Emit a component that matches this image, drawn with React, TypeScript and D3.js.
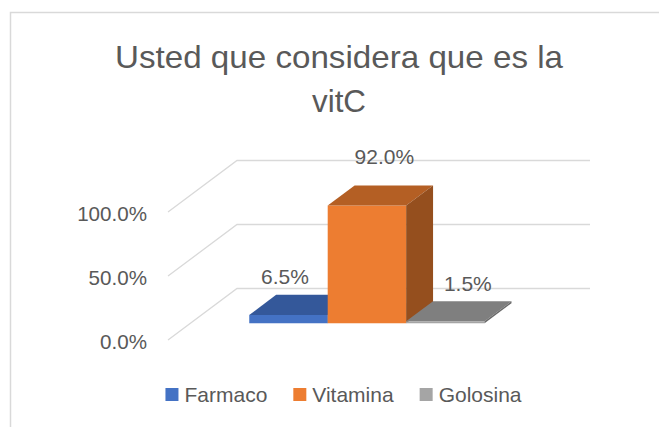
import React, { useLayoutEffect, useRef, useState } from "react";
import * as d3 from "d3";

// ---- data ----
const seriesNames = ["Farmaco", "Vitamina", "Golosina"];
const seriesValues = [0.065, 0.92, 0.015];
const yTickValues = [0, 0.5, 1];
const titleLines = ["Usted que considera que es la", "vitC"];
const categoryLabels = ["vitC"];

// ---- styles ----
const frontColors = ["#4472c4", "#ed7d31", "#a5a5a5"];
const topColors = ["#34589a", "#b45f24", "#7f7f7f"];
const sideColors = ["#2b4a80", "#954f1e", "#6a6a6a"];
const labelShift = [-17, 4, 9];
const titleWidths = [448, 54];
const FONT = "'Liberation Sans', Arial, sans-serif";
const TEXT = "#595959";
const GRID = "#d9d9d9";

const W = 659;
const H = 427;

export default function App() {
  const legendRefs = useRef<(SVGTextElement | null)[]>([]);
  const [legendW, setLegendW] = useState<number[]>(seriesNames.map((s) => s.length * 11));

  useLayoutEffect(() => {
    const ws = legendRefs.current.map((el, i) =>
      el ? el.getComputedTextLength() : seriesNames[i].length * 11
    );
    if (ws.some((w, i) => Math.abs(w - legendW[i]) > 0.5)) setLegendW(ws);
  }, []);

  // geometry
  const floorLeft = 168;
  const floorRight = 521;
  const dx = 69;
  const dy = -51.5;
  const f1 = 0.325;
  const f2 = 0.715;

  const y = d3.scaleLinear().domain([0, 1]).range([340, 212]);
  const xCat = d3
    .scaleBand<string>()
    .domain(categoryLabels)
    .range([floorLeft, floorRight])
    .paddingInner(0)
    .paddingOuter(0.25);
  const xSer = d3
    .scaleBand<string>()
    .domain(seriesNames)
    .range([0, xCat.bandwidth()])
    .padding(0);
  const fmt = d3.format(".1%");

  const ddx = dx * (f2 - f1);
  const ddy = dy * (f2 - f1);

  const bars = seriesNames.map((name, i) => {
    const v = seriesValues[i];
    const x0 = (xCat(categoryLabels[0]) as number) + (xSer(name) as number) + dx * f1;
    const x1 = x0 + xSer.bandwidth();
    const yb = y(0) + dy * f1;
    const yt = y(v) + dy * f1;
    const pt = (a: [number, number][]) => a.map((p) => p.join(",")).join(" ");
    const top = pt([
      [x0, yt],
      [x1, yt],
      [x1 + ddx, yt + ddy],
      [x0 + ddx, yt + ddy],
    ]);
    const side = pt([
      [x1, yt],
      [x1 + ddx, yt + ddy],
      [x1 + ddx, yb + ddy],
      [x1, yb],
    ]);
    const midX = (x0 + x1) / 2 + ddx / 2 + labelShift[i];
    const midTopY = yt + ddy / 2;
    const labelY = midTopY - 20 - 13 * v;
    return { name, i, v, x0, x1, yb, yt, top, side, midX, labelY };
  });

  // legend layout
  const sq = 13;
  const gapSqText = 6;
  const gapItems = 26;
  const itemWidths = legendW.map((w) => sq + gapSqText + w);
  const totalLegend = itemWidths.reduce((a, b) => a + b, 0) + gapItems * (seriesNames.length - 1);
  const legendCenter = (floorLeft + floorRight) / 2 - 1;
  let lx = legendCenter - totalLegend / 2;
  const legendX: number[] = [];
  itemWidths.forEach((w) => {
    legendX.push(lx);
    lx += w + gapItems;
  });

  return (
    <svg
      width={W}
      height={H}
      style={{ position: "absolute", left: 0, top: 0, display: "block", background: "#fff" }}
      fontFamily={FONT}
    >
      <rect x={0} y={0} width={W} height={H} fill="#fff" />
      <rect x={10.5} y={12.5} width={W + 50} height={H + 50} fill="#fff" stroke={GRID} strokeWidth={1.5} />

      {/* title */}
      {titleLines.map((t, i) => (
        <text
          key={i}
          x={339}
          y={68.3 + i * 43.7}
          textAnchor="middle"
          fontSize={30.5}
          fill={TEXT}
          textLength={titleWidths[i]}
          lengthAdjust="spacingAndGlyphs"
        >
          {t}
        </text>
      ))}

      {/* gridlines */}
      {yTickValues.map((t) => {
        const yy = y(t);
        return (
          <path
            key={t}
            d={`M${floorLeft},${yy} L${floorLeft + dx},${yy + dy} L${floorRight + dx},${yy + dy}`}
            fill="none"
            stroke={GRID}
            strokeWidth={1.3}
          />
        );
      })}

      {/* tick labels */}
      {yTickValues.map((t) => (
        <text key={t} x={147} y={y(t) + 8.5} textAnchor="end" fontSize={20.6} fill={TEXT}>
          {fmt(t)}
        </text>
      ))}

      {/* bars (left to right) */}
      {bars.map((b) => (
        <g key={b.name}>
          <rect x={b.x0} y={b.yt} width={b.x1 - b.x0} height={b.yb - b.yt} fill={frontColors[b.i]} />
          <polygon points={b.top} fill={topColors[b.i]} />
          <polygon points={b.side} fill={sideColors[b.i]} />
        </g>
      ))}

      {/* data labels */}
      {bars.map((b) => (
        <text key={b.name} x={b.midX} y={b.labelY} textAnchor="middle" fontSize={21} fill={TEXT}>
          {fmt(b.v)}
        </text>
      ))}

      {/* legend */}
      {seriesNames.map((name, i) => (
        <g key={name}>
          <rect x={legendX[i]} y={388} width={sq} height={sq} fill={frontColors[i]} />
          <text
            ref={(el) => {
              legendRefs.current[i] = el;
            }}
            x={legendX[i] + sq + gapSqText}
            y={401.5}
            fontSize={21}
            fill={TEXT}
          >
            {name}
          </text>
        </g>
      ))}
    </svg>
  );
}
